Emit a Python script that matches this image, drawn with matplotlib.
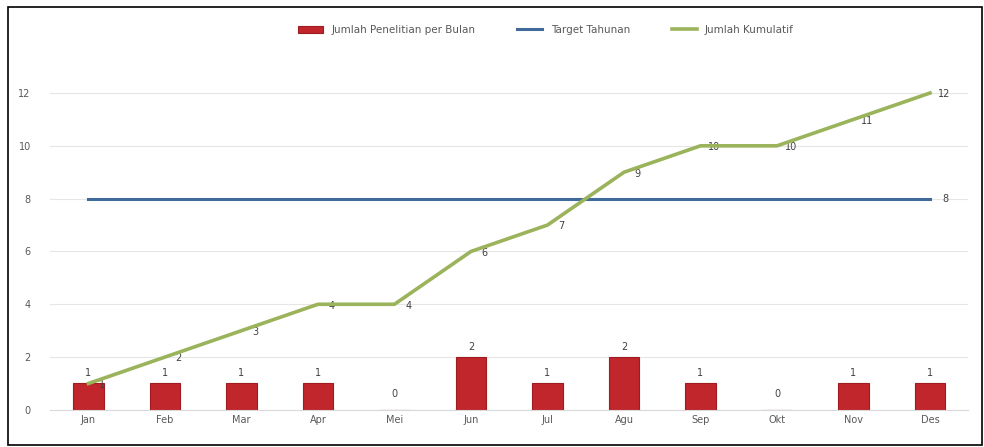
import numpy as np
import matplotlib.pyplot as plt
from matplotlib.patches import Rectangle

bulan = ['Jan', 'Feb', 'Mar', 'Apr', 'Mei', 'Jun', 'Jul', 'Agu', 'Sep', 'Okt', 'Nov', 'Des']
per_bulan = [1, 1, 1, 1, 0, 2, 1, 2, 1, 0, 1, 1]
kumulatif = [1, 2, 3, 4, 4, 6, 7, 9, 10, 10, 11, 12]
target = [8] * 12

fig = plt.figure(figsize=(9.84, 4.47), dpi=100)
ax = fig.add_axes([0.051, 0.083, 0.933, 0.768])

x = np.arange(len(bulan))
txt = '#404040'

bars = ax.bar(x, per_bulan, width=0.4, color='#C0262C', edgecolor='#9E1B20', linewidth=0.8,
              label='Jumlah Penelitian per Bulan', zorder=2)
l_target, = ax.plot(x, target, color='#3F6A9A', linewidth=2.2, label='Target Tahunan', zorder=3)
l_kum, = ax.plot(x, kumulatif, color='#9BB35A', linewidth=2.6, label='Jumlah Kumulatif', zorder=4)

# label angka
for i, v in enumerate(per_bulan):
    if v == 0:
        ax.annotate('0', (x[i], 0.6), ha='center', va='center', fontsize=7, color=txt)
    else:
        ax.annotate(str(v), (x[i], v), xytext=(0, 4), textcoords='offset points',
                    ha='center', va='bottom', fontsize=7, color=txt)
for i, v in enumerate(kumulatif):
    ax.annotate(str(v), (x[i], v), xytext=(10, -1), textcoords='offset points',
                ha='center', va='center', fontsize=7, color=txt)
ax.annotate(str(target[-1]), (x[-1], target[-1]), xytext=(11, 0), textcoords='offset points',
            ha='center', va='center', fontsize=7, color=txt)

ax.set_xlim(-0.5, 11.5)
ax.set_ylim(0, 13)
ax.set_yticks(range(0, 13, 2))
ax.set_xticks(x)
ax.set_xticklabels(bulan)
ax.tick_params(axis='both', length=0, labelsize=7, labelcolor='#595959')
ax.tick_params(axis='y', pad=14)
ax.grid(axis='y', color='#E6E6E6', linewidth=0.8, zorder=0)
for s in ax.spines.values():
    s.set_visible(False)
ax.spines['bottom'].set_visible(True)
ax.spines['bottom'].set_color('#D9D9D9')

fig.legend(handles=[bars, l_target, l_kum], loc='upper center', bbox_to_anchor=(0.555, 0.965),
           ncol=3, frameon=False, fontsize=7.5, labelcolor='#595959', handlelength=2.4,
           columnspacing=4.0)

fig.patches.append(Rectangle((0.008, 0.005), 0.99, 0.98, transform=fig.transFigure,
                             fill=False, edgecolor='black', linewidth=1.2))

fig.savefig('out.png', dpi=100)
